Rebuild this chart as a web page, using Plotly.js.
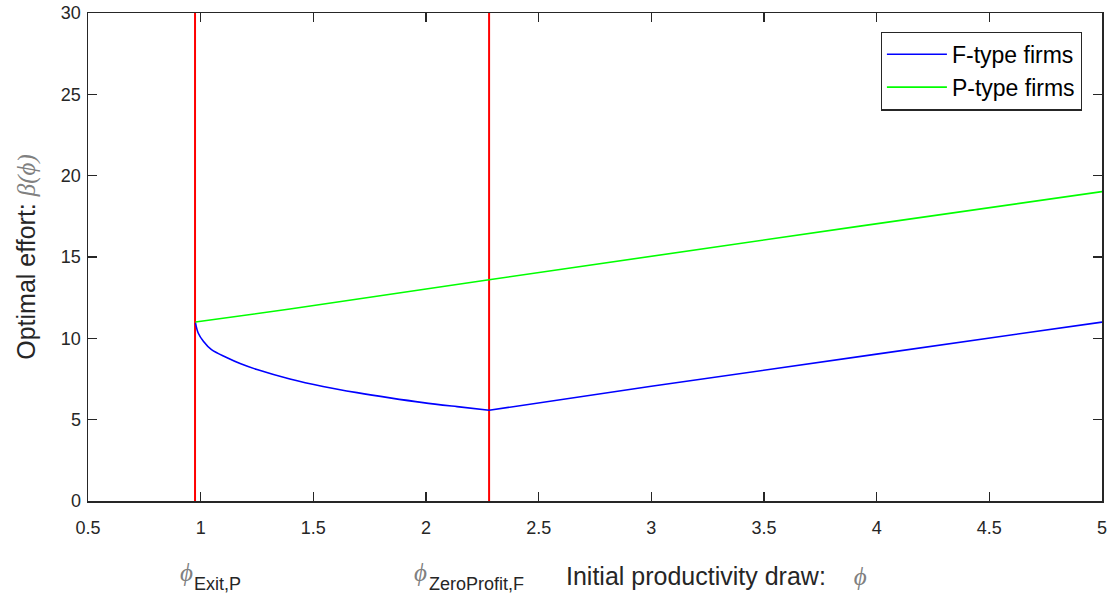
<!DOCTYPE html>
<html>
<head>
<meta charset="utf-8">
<script src="https://cdn.plot.ly/plotly-3.0.1.min.js"></script>
<style>html,body{margin:0;padding:0;background:#fff;}#chart{width:1115px;height:606px;}</style>
</head>
<body>
<div id="chart"></div>
<script>
// Threshold productivities (red vertical lines)
const phiExitP = 0.975;
const phiZeroProfitF = 2.28;
const yRange = [0, 30];

// F-type firms (blue): convex part below phiZeroProfitF, then linear part above it
const fCurveX = [0.977, 0.989, 1.012, 1.048, 1.115, 1.175, 1.25, 1.396, 1.543, 1.694, 1.84, 1.987, 2.138, 2.28];
const fCurveY = [10.95, 10.33, 9.82, 9.30, 8.82, 8.45, 8.08, 7.50, 7.04, 6.66, 6.34, 6.05, 5.80, 5.58];
const fLineX = [2.28, 3.0, 4.0, 5.0];
const fLineY = [5.58, 7.05, 9.03, 11.0];

// P-type firms (green)
const pX = [0.977, 1.396, 2.28, 3.0, 3.926, 5.0];
const pY = [11.0, 11.8, 13.6, 15.05, 16.9, 19.02];

const xTicks = [0.5, 1, 1.5, 2, 2.5, 3, 3.5, 4, 4.5, 5];
const xTickText = ['0.5', '1', '1.5', '2', '2.5', '3', '3.5', '4', '4.5', '5'];
const yTicks = [0, 5, 10, 15, 20, 25, 30];

const SANS = 'Liberation Sans, Arial, sans-serif';
const greek = 'font-family:Liberation Serif, DejaVu Serif, serif;font-style:italic;color:#808080';
const PHI = '\u03D5';

const traces = [
  {x: [phiExitP, phiExitP], y: yRange, mode: 'lines', line: {color: '#ff0000', width: 2}, showlegend: false, hoverinfo: 'skip'},
  {x: [phiZeroProfitF, phiZeroProfitF], y: yRange, mode: 'lines', line: {color: '#ff0000', width: 2}, showlegend: false, hoverinfo: 'skip'},
  {x: fCurveX, y: fCurveY, mode: 'lines', name: 'F-type firms', legendgroup: 'F', line: {color: '#0000ff', width: 1.6, shape: 'spline', smoothing: 1}},
  {x: fLineX, y: fLineY, mode: 'lines', name: 'F-type firms', legendgroup: 'F', showlegend: false, line: {color: '#0000ff', width: 1.6}},
  {x: pX, y: pY, mode: 'lines', name: 'P-type firms', line: {color: '#00ff00', width: 1.6}}
];

const axisCommon = {
  showline: true, mirror: 'ticks', linecolor: '#262626', linewidth: 1.5,
  ticks: 'inside', ticklen: 9, tickwidth: 1.5, tickcolor: '#262626',
  showgrid: false, zeroline: false,
  tickfont: {family: SANS, size: 18, color: '#262626'}
};

const layout = {
  width: 1115, height: 606,
  margin: {l: 88, r: 13, t: 13, b: 105},
  paper_bgcolor: '#ffffff', plot_bgcolor: '#ffffff',
  xaxis: Object.assign({}, axisCommon, {range: [0.5, 5], tickvals: xTicks, ticktext: xTickText, ticklabelstandoff: 10}),
  yaxis: Object.assign({}, axisCommon, {range: yRange, tickvals: yTicks, ticklabelstandoff: 2,
    title: {text: 'Optimal effort: <span style="' + greek + '">\u03B2(' + PHI + ')</span>', font: {family: SANS, size: 25, color: '#262626'}, standoff: 18}}),
  legend: {x: 0.98, y: 0.962, xanchor: 'right', yanchor: 'top', bgcolor: '#ffffff', bordercolor: '#262626', borderwidth: 1.2,
    font: {family: SANS, size: 23, color: '#000000'}, itemwidth: 60, tracegroupgap: 0, traceorder: 'normal'},
  annotations: [
    {xref: 'paper', yref: 'paper', x: (564 - 88) / 1014, y: -0.154, xanchor: 'left', yanchor: 'middle', showarrow: false,
     text: 'Initial productivity draw:&nbsp;&nbsp;&nbsp;&nbsp;<span style="' + greek + '">' + PHI + '</span>',
     font: {family: SANS, size: 25, color: '#262626'}},
    // phi_{Exit,P}
    {xref: 'x', yref: 'paper', x: 0.9, y: -0.115, xanchor: 'left', yanchor: 'top', showarrow: false,
     text: '<span style="' + greek + '">' + PHI + '</span>', font: {family: SANS, size: 25, color: '#808080'}},
    {xref: 'x', yref: 'paper', x: 0.9, xshift: 14, y: -0.145, xanchor: 'left', yanchor: 'top', showarrow: false,
     text: 'Exit,P', font: {family: SANS, size: 18, color: '#262626'}},
    // phi_{ZeroProfit,F}
    {xref: 'x', yref: 'paper', x: 1.94, y: -0.115, xanchor: 'left', yanchor: 'top', showarrow: false,
     text: '<span style="' + greek + '">' + PHI + '</span>', font: {family: SANS, size: 25, color: '#808080'}},
    {xref: 'x', yref: 'paper', x: 1.94, xshift: 15, y: -0.145, xanchor: 'left', yanchor: 'top', showarrow: false,
     text: 'ZeroProfit,F', font: {family: SANS, size: 18, color: '#262626'}}
  ]
};

Plotly.newPlot('chart', traces, layout, {displayModeBar: false, staticPlot: true});
</script>
</body>
</html>
